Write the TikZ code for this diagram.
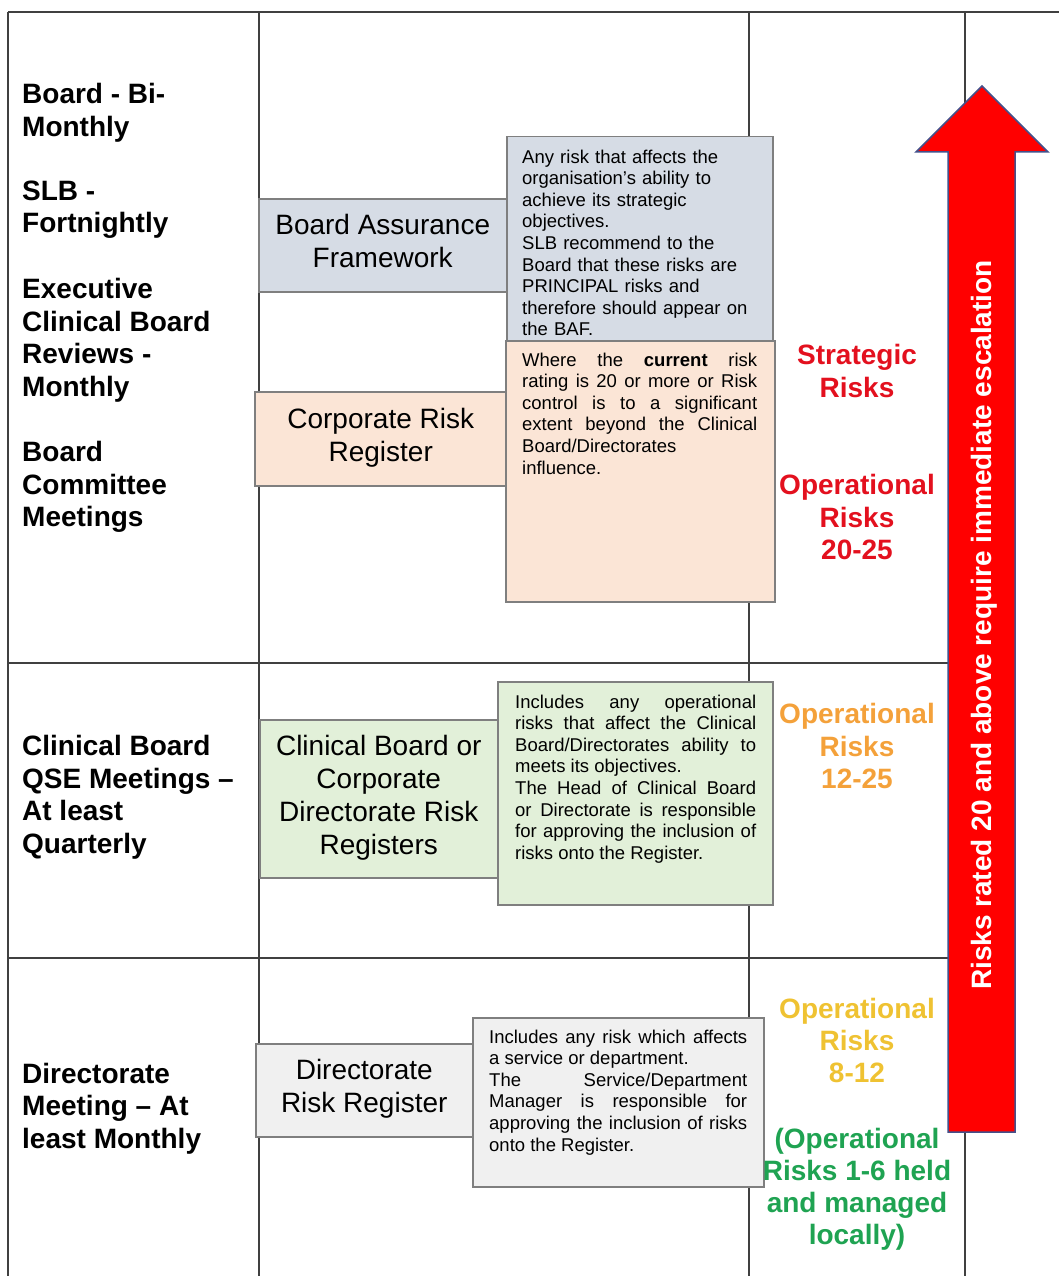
\documentclass[tikz,border=0pt]{standalone}
\usepackage{fontspec}
\setmainfont{Liberation Sans}
\usepackage{tikz}
\usetikzlibrary{positioning}
\definecolor{bafBlue}{HTML}{D6DCE5}
\definecolor{corpPeach}{HTML}{FBE5D6}
\definecolor{cbGreen}{HTML}{E2F0D9}
\definecolor{dirGrey}{HTML}{F0F0F0}
\definecolor{boxBorder}{HTML}{7F7F7F}
\definecolor{gridGrey}{HTML}{404040}
\definecolor{riskRed}{HTML}{E3101E}
\definecolor{riskOrange}{HTML}{F4A13A}
\definecolor{riskYellow}{HTML}{EFC232}
\definecolor{riskGreen}{HTML}{1FA352}
\definecolor{arrowRed}{HTML}{FF0000}
\definecolor{arrowEdge}{HTML}{44508A}
\tikzstyle{gridLine} = [draw=gridGrey,line width=1.2pt]
\tikzstyle{labelBox} = [draw=boxBorder,line width=1.5pt,rectangle,anchor=north west,inner sep=0pt,text depth=8pt,align=center,font=\fontsize{28}{33}\selectfont]
\tikzstyle{descBox} = [draw=boxBorder,line width=1.5pt,rectangle,anchor=north west,inner sep=0pt]
\tikzstyle{descText} = [anchor=north west,inner sep=0pt,font=\fontsize{18.5}{21.6}\selectfont]
\tikzstyle{meeting} = [anchor=north west,inner sep=0pt,align=left,font=\fontsize{28}{32.5}\selectfont\bfseries]
\tikzstyle{rating} = [anchor=north,inner sep=0pt,align=center,font=\fontsize{28}{32.3}\selectfont\bfseries]
\tikzstyle{escalationArrow} = [draw=arrowEdge,fill=arrowRed,line width=1.5pt,line join=miter]

\begin{document}
\begin{tikzpicture}[x=1pt,y=-1pt]
		\useasboundingbox (0,0) rectangle (1059,1276);
		%grid
		\coordinate (gridTL) at (8,12);
		\coordinate (gridTR) at (1059,12);
		\coordinate (gridBL) at (8,1276);
		\coordinate (colOneTop) at (259,12);
		\coordinate (colOneBot) at (259,1276);
		\coordinate (colTwoTop) at (749,12);
		\coordinate (colTwoBot) at (749,1276);
		\coordinate (colThreeTop) at (965,12);
		\coordinate (colThreeBot) at (965,1276);
		\coordinate (rowOneL) at (8,663);
		\coordinate (rowOneR) at (965,663);
		\coordinate (rowTwoL) at (8,958);
		\coordinate (rowTwoR) at (965,958);
		\path[gridLine](gridTL)--(gridTR);
		\path[gridLine](gridTL)--(gridBL);
		\path[gridLine](colOneTop)--(colOneBot);
		\path[gridLine](colTwoTop)--(colTwoBot);
		\path[gridLine](colThreeTop)--(colThreeBot);
		\path[gridLine](rowOneL)--(rowOneR);
		\path[gridLine](rowTwoL)--(rowTwoR);
		%meetings
		\node[meeting](boardMeeting) at (22,83.5){Board - Bi-\\Monthly};
		\node[meeting](slbMeeting) at (22,180.5){SLB -\\Fortnightly};
		\node[meeting](execMeeting) at (22,278.5){Executive\\Clinical Board\\Reviews -\\Monthly};
		\node[meeting](committeeMeeting) at (22,441.5){Board\\Committee\\Meetings};
		\node[meeting](qseMeeting) at (22,735.5){Clinical Board\\QSE Meetings --\\At least\\Quarterly};
		\node[meeting](dirMeeting) at (22,1062.5){Directorate\\Meeting -- At\\least Monthly};
		%registers
		\node[labelBox,fill=bafBlue,minimum width=248,minimum height=93](baf) at (258,198){Board Assurance\\Framework};
		\node[labelBox,fill=corpPeach,minimum width=252,minimum height=94](corporate) at (254,391){Corporate Risk\\Register};
		\node[labelBox,fill=cbGreen,minimum width=238,minimum height=158](clinical) at (259,719){Clinical Board or\\Corporate\\Directorate Risk\\Registers};
		\node[labelBox,fill=dirGrey,minimum width=217,minimum height=93](directorate) at (255,1043){Directorate\\Risk Register};
		%descriptions
		\node[descBox,fill=bafBlue,minimum width=266,minimum height=204](bafDesc) at (506,136){};
		\node[descBox,fill=corpPeach,minimum width=269,minimum height=261](corporateDesc) at (505,340){};
		\node[descBox,fill=cbGreen,minimum width=275,minimum height=223](clinicalDesc) at (497,681){};
		\node[descBox,fill=dirGrey,minimum width=291,minimum height=169](directorateDesc) at (472,1017){};
		\node[descText,text width=245,align=left](bafText) at ([shift={(16,13.5)}]bafDesc.north west){Any risk that affects the\\organisation’s ability to\\achieve its strategic\\objectives.\\SLB recommend to the\\Board that these risks are\\PRINCIPAL risks and\\therefore should appear on\\the BAF.};
		\node[descText,text width=235,align=justify](corporateText) at ([shift={(17,12.5)}]corporateDesc.north west){Where the \textbf{current} risk\linebreak rating is 20 or more or Risk\linebreak control is to a significant\linebreak extent beyond the Clinical\linebreak Board/Directorates\\influence.};
		\node[descText,text width=241,align=justify](clinicalText) at ([shift={(18,13.5)}]clinicalDesc.north west){Includes any operational\linebreak risks that affect the Clinical\linebreak Board/Directorates ability to\linebreak meets its objectives.\\The Head of Clinical Board\linebreak or Directorate is responsible\linebreak for approving the inclusion of\linebreak risks onto the Register.};
		\node[descText,text width=258,align=justify](directorateText) at ([shift={(17,12.5)}]directorateDesc.north west){Includes any risk which affects\linebreak a service or department.\\The Service/Department\linebreak Manager is responsible for\linebreak approving the inclusion of risks\linebreak onto the Register.};
		%ratings
		\node[rating,text=riskRed](strategic) at (857,344.5){Strategic\\Risks};
		\node[rating,text=riskRed](highOps) at (857,474.5){Operational\\Risks\\20-25};
		\node[rating,text=riskOrange](midOps) at (857,703.5){Operational\\Risks\\12-25};
		\node[rating,text=riskYellow](lowOps) at (857,997.5){Operational\\Risks\\8-12};
		\node[rating,text=riskGreen](localOps) at (857,1127.5){(Operational\\Risks 1-6 held\\and managed\\locally)};
		%escalation arrow
		\path[escalationArrow](948,1132)--(948,152)--(916,152)--(982,86)--(1048,152)--(1015,152)--(1015,1132)--cycle;
		\node[rotate=90,text=white,inner sep=0pt,font=\fontsize{28}{32}\selectfont\bfseries](escalation) at (984,625){Risks rated 20 and above require immediate escalation};
	\end{tikzpicture}
\end{document}
